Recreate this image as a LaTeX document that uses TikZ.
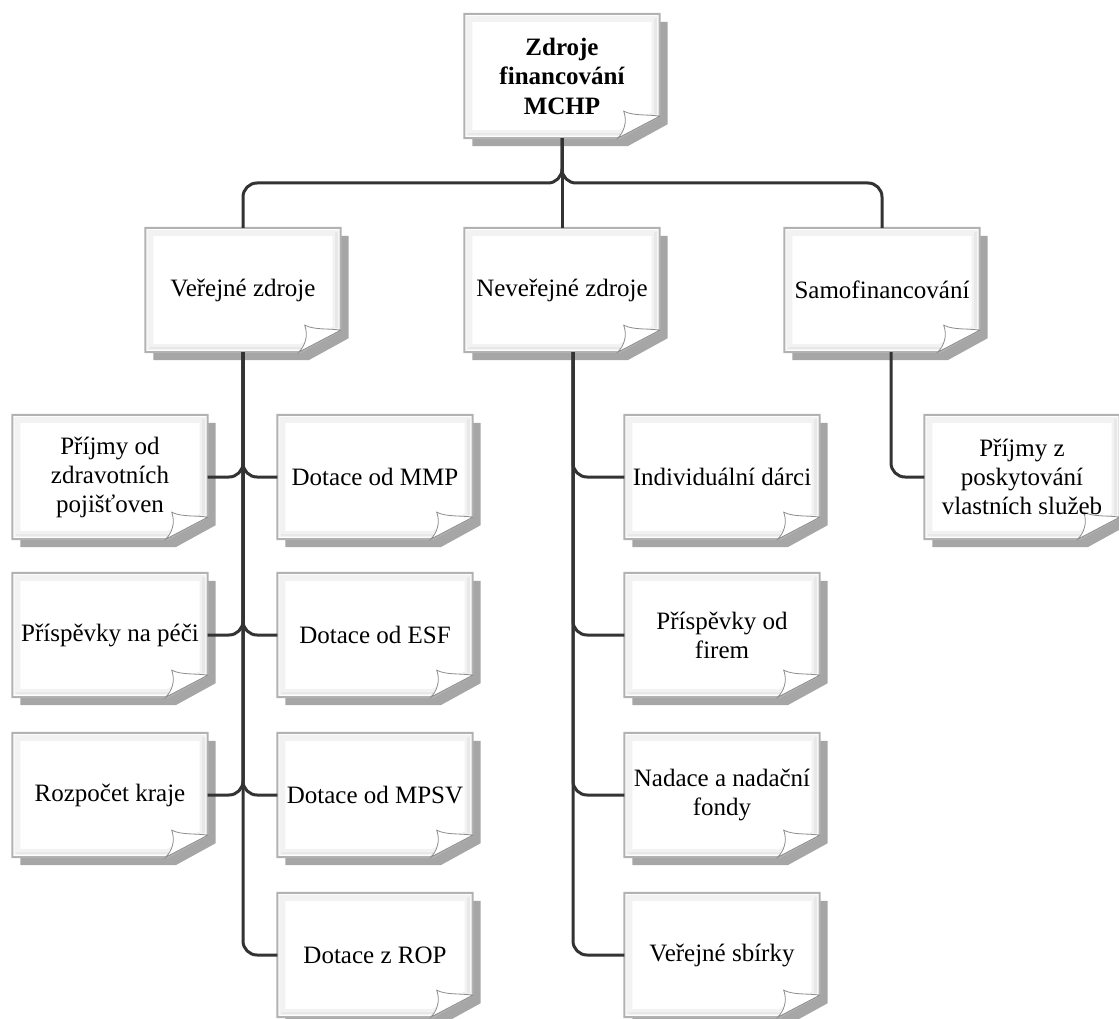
\documentclass[tikz,border=0pt]{standalone}
\usepackage{fontspec}
\setmainfont{Liberation Serif}
\usetikzlibrary{calc, positioning}
\pgfdeclarelayer{bg}
\pgfsetlayers{bg,main}

% sheet with shadow and curled corner behind a node
\newcommand{\notebg}[1]{%
  \coordinate (nw) at (#1.north west);
  \coordinate (ne) at (#1.north east);
  \coordinate (se) at (#1.south east);
  \coordinate (sw) at (#1.south west);
  \fill[black!35] ($(nw)+(8,8)$) -- ($(ne)+(8,8)$) -- ($(se)+(8,-14)$) -- ($(se)+(-32,8)$) -- ($(sw)+(8,8)$) -- cycle;
  \filldraw[fill=white, draw=black!30, line width=2pt] (nw) -- (ne) -- ($(se)+(0,-22)$) -- ($(se)+(-40,0)$) -- (sw) -- cycle;
  \draw[black!5, line width=6pt] ($(nw)+(5,5)$) -- ($(ne)+(-5,5)$) -- ($(se)+(-5,-24)$) -- ($(se)+(-40,-5)$) -- ($(sw)+(5,-5)$) -- cycle;
  \draw[black!9, line width=2.5pt] ($(ne)+(-4,4)$) -- ($(se)+(-4,-24)$) ($(se)+(-40,-4)$) -- ($(sw)+(4,-4)$);
  \filldraw[fill=white, draw=black!45, line width=0.8pt] ($(se)+(-36,-27)$) .. controls ($(se)+(-32,-16)$) and ($(se)+(-36,-6)$) .. ($(se)+(-42,0)$) -- ($(se)+(0,-22)$) .. controls ($(se)+(-12,-24)$) and ($(se)+(-26,-22)$) .. cycle;
}

\begin{document}
\begin{tikzpicture}[x=1pt, y=-1pt,
  notebox/.style={minimum width=195pt, minimum height=124pt, inner sep=2pt, align=center, font=\fontsize{25}{29}\selectfont},
  link/.style={draw=black!80, line width=3pt, rounded corners=14pt}]
  \useasboundingbox (0,0) rectangle (1119,1019);
  % root
  \node[notebox, font=\fontsize{25}{29.5}\selectfont\bfseries] (mchp) at (562,76) {Zdroje\\financování\\MCHP};
  % second level
  \node[notebox] (ver) at (243,290) {Veřejné zdroje};
  \node[notebox] (nev) at (562,290) {Neveřejné zdroje};
  \node[notebox] (samo) at (882,290) {Samofinancování};
  % public sources
  \node[notebox] (pojist) at (110,477) {Příjmy od\\zdravotních\\pojišťoven};
  \node[notebox] (pece) at (110,635) {Příspěvky na péči};
  \node[notebox] (kraj) at (110,795) {Rozpočet kraje};
  \node[notebox] (mmp) at (375,477) {Dotace od MMP};
  \node[notebox] (esf) at (375,635) {Dotace od ESF};
  \node[notebox] (mpsv) at (375,795) {Dotace od MPSV};
  \node[notebox] (rop) at (375,955) {Dotace z ROP};
  % non-public sources
  \node[notebox] (darci) at (722,477) {Individuální dárci};
  \node[notebox] (firmy) at (722,635) {Příspěvky od\\firem};
  \node[notebox] (nadace) at (722,795) {Nadace a nadační\\fondy};
  \node[notebox] (sbirky) at (722,955) {Veřejné sbírky};
  % self-financing
  \node[notebox] (sluzby) at (1022,477) {Příjmy z\\poskytování\\vlastních služeb};

  \begin{pgfonlayer}{bg}
    \fill[white] (0,0) rectangle (1119,1019);
    \foreach \n in {mchp,ver,nev,samo,pojist,pece,kraj,mmp,esf,mpsv,rop,darci,firmy,nadace,sbirky,sluzby}
      \notebg{\n};
  \end{pgfonlayer}

  % connectors
  \coordinate (bus) at (0,183);
  \draw[link] (mchp.south) -- (mchp.south |- bus) -| (ver.north);
  \draw[link] (mchp.south) -- (mchp.south |- bus) -| (samo.north);
  \draw[link] (mchp.south) -- (nev.north);
  \foreach \c in {pojist,pece,kraj}
    \draw[link] (ver.south) |- (\c.east);
  \foreach \c in {mmp,esf,mpsv,rop}
    \draw[link] (ver.south) |- (\c.west);
  \foreach \c in {darci,firmy,nadace,sbirky}
    \draw[link] ([xshift=11pt]nev.south) |- (\c.west);
  \draw[link] ([xshift=9pt]samo.south) |- (sluzby.west);
\end{tikzpicture}
\end{document}
